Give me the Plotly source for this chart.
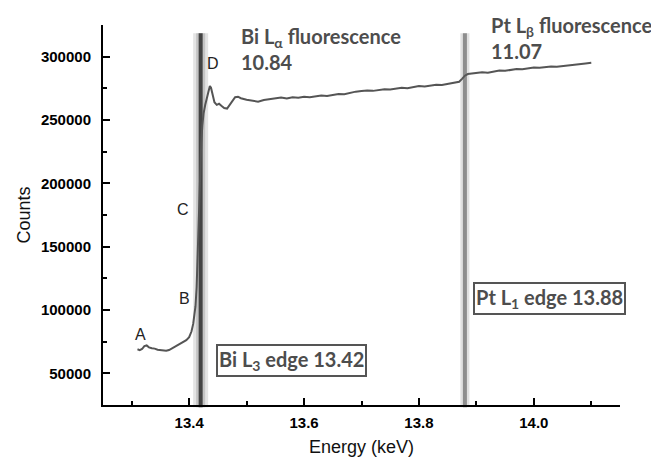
import plotly.graph_objects as go

# ---- data ----
energy = [13.310, 13.314, 13.318, 13.322, 13.326, 13.330, 13.335, 13.340, 13.345, 13.350,
          13.355, 13.360, 13.365, 13.370, 13.375, 13.380, 13.385, 13.390, 13.395, 13.400,
          13.404, 13.407, 13.409, 13.411, 13.413, 13.415, 13.417, 13.419, 13.421, 13.423,
          13.425, 13.428, 13.431, 13.434, 13.436, 13.438, 13.441, 13.444, 13.448, 13.452,
          13.456, 13.461, 13.466, 13.470, 13.475, 13.480, 13.485, 13.490, 13.500, 13.510,
          13.520, 13.530, 13.540, 13.550, 13.560, 13.570, 13.580, 13.590, 13.600, 13.610,
          13.620, 13.630, 13.640, 13.650, 13.660, 13.670, 13.680, 13.690, 13.700, 13.710,
          13.720, 13.730, 13.740, 13.750, 13.760, 13.770, 13.780, 13.790, 13.800, 13.810,
          13.820, 13.830, 13.840, 13.850, 13.860, 13.870, 13.875, 13.880, 13.885, 13.890,
          13.900, 13.910, 13.920, 13.930, 13.940, 13.950, 13.960, 13.970, 13.980, 13.990,
          14.000, 14.010, 14.020, 14.030, 14.040, 14.050, 14.060, 14.070, 14.080, 14.090,
          14.100]
counts = [69000, 68300, 69200, 71500, 72000, 70500, 69800, 69500, 68600, 68200,
          67600, 67800, 68400, 69800, 71000, 72400, 73800, 75000, 76200, 78500,
          83000, 89000, 95000, 103000, 118000, 145000, 180000, 210000, 232000, 246000,
          255000, 262000, 267000, 273000, 276800, 275500, 269000, 264000, 262000, 262800,
          261200, 259500, 259000, 261500, 265000, 268000, 268400, 267200, 266000, 265000,
          264500, 265800, 266500, 267200, 267800, 267000, 268000, 267500, 268300, 268000,
          268800, 269300, 269000, 270000, 270600, 270300, 271500, 272400, 272800, 273300,
          273000, 273900, 274300, 274000, 275000, 275400, 275100, 276200, 276800, 276500,
          277400, 277800, 277600, 278400, 279000, 280200, 282500, 285000, 286300, 286500,
          287000, 287600, 287400, 288300, 289000, 288800, 289700, 290300, 290000, 291000,
          291400, 291200, 291800, 292300, 292000, 292400, 293000, 293300, 293800, 294600,
          295200]

edge_energies = [13.42, 13.88]
edge_labels = ["Bi L<sub>3</sub> edge 13.42", "Pt L<sub>1</sub> edge 13.88"]
fluor_labels = ["Bi L<sub>α</sub> fluorescence", "Pt L<sub>β</sub> fluorescence"]
fluor_values = ["10.84", "11.07"]
point_labels = ["A", "B", "C", "D"]
point_x = [13.315, 13.391, 13.3896, 13.4417]
point_y = [80800, 109200, 179500, 294500]

fig = go.Figure()
fig.add_trace(go.Scatter(x=energy, y=counts, mode="lines",
                         line=dict(color="#555555", width=2), showlegend=False))

# edge bands
band_styles = [
    [(15, "rgba(205,205,205,0.55)"), (9, "rgba(175,175,175,0.6)"), (4, "#444444")],
    [(9, "rgba(205,205,205,0.6)"), (4, "#8e8e8e")],
]
for e, styles in zip(edge_energies, band_styles):
    for w, c in styles:
        fig.add_shape(type="line", xref="x", yref="paper", x0=e, x1=e, y0=-0.006, y1=0.978,
                      line=dict(color=c, width=w), layer="below")

lab_font = dict(family="Lato", size=20, color="#4d4d4d", weight="bold")
fig.add_annotation(x=13.487, y=316500, text=fluor_labels[0] + "<br>" + fluor_values[0],
                   showarrow=False, xanchor="left", yanchor="top", align="left", font=lab_font,
                   yshift=14)
fig.add_annotation(x=13.9217, y=325000, text=fluor_labels[1] + "<br>" + fluor_values[1],
                   showarrow=False, xanchor="left", yanchor="top", align="left", font=lab_font,
                   yshift=14)

box_font = dict(family="Lato", size=20, color="#4d4d4d", weight="bold")
fig.add_annotation(x=13.578, y=60500, text=edge_labels[0], showarrow=False,
                   xanchor="center", yanchor="middle", font=box_font,
                   bordercolor="#555555", borderwidth=2, borderpad=1, bgcolor="white")
fig.add_annotation(x=14.027, y=108700, text=edge_labels[1], showarrow=False,
                   xanchor="center", yanchor="middle", font=box_font,
                   bordercolor="#555555", borderwidth=2, borderpad=1, bgcolor="white")

for t, px, py in zip(point_labels, point_x, point_y):
    fig.add_annotation(x=px, y=py, text=t, showarrow=False, xanchor="center", yanchor="middle",
                       font=dict(family="Liberation Sans, Arial", size=16, color="#222222"))

axis_font = dict(family="Liberation Sans, Arial", size=15, color="#000000", weight="bold")
fig.update_layout(
    width=651, height=457,
    margin=dict(l=103, r=31, t=25, b=52, autoexpand=False),
    paper_bgcolor="white", plot_bgcolor="white",
    xaxis=dict(range=[13.25, 14.15], tick0=13.4, dtick=0.2, tickformat=".1f",
               ticks="inside", ticklen=7, tickwidth=2, tickcolor="black",
               minor=dict(dtick=0.1, tick0=13.3, ticks="inside", ticklen=4, tickwidth=2, tickcolor="black"),
               showline=True, linecolor="black", linewidth=2, showgrid=False, zeroline=False,
               tickfont=axis_font, ticklabelstandoff=3, automargin=False,
               title=dict(text="Energy (keV)", font=dict(family="Liberation Sans, Arial", size=18, color="#111111"), standoff=12)),
    yaxis=dict(range=[25000, 325000], tick0=0, dtick=50000, tickformat="d",
               ticks="inside", ticklen=7, tickwidth=2, tickcolor="black",
               minor=dict(dtick=25000, tick0=0, ticks="inside", ticklen=4, tickwidth=2, tickcolor="black"),
               showline=True, linecolor="black", linewidth=2, showgrid=False, zeroline=False,
               tickfont=axis_font, ticklabelstandoff=7, automargin=False,
               title=dict(text="Counts", font=dict(family="Liberation Sans, Arial", size=18, color="#111111"), standoff=6)),
)

fig.write_html("out.html")
